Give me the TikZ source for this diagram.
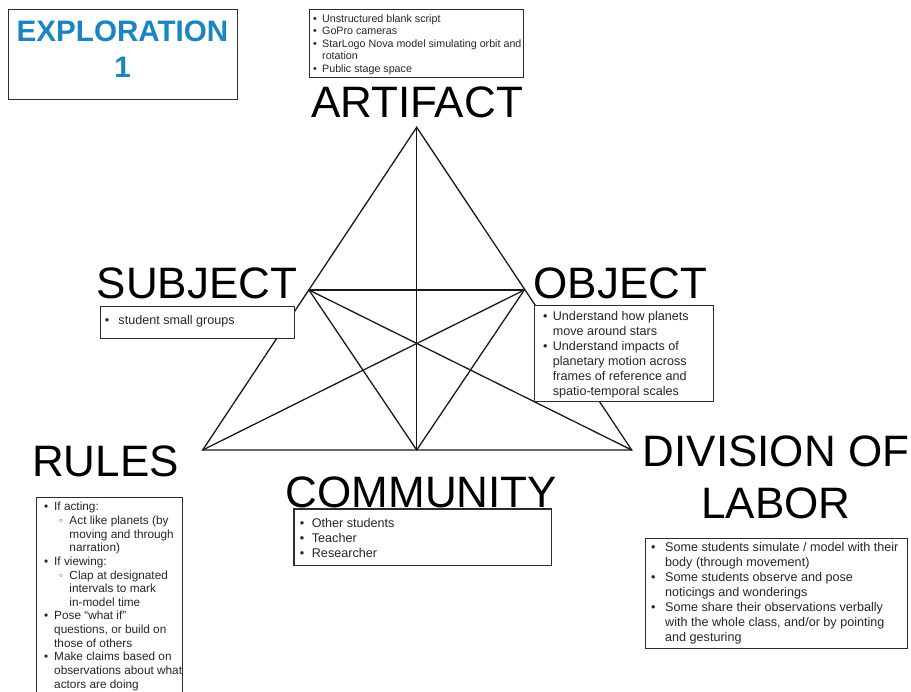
\documentclass[tikz,border=0pt]{standalone}
\usepackage{fontspec}
\setmainfont{Liberation Sans}
\usetikzlibrary{calc}
\definecolor{explblue}{RGB}{27,133,196}
\definecolor{boxline}{RGB}{45,45,45}
\newcommand\bux[1]{\makebox[#1][l]{•}}
\newcommand\subx[1]{\makebox[#1][l]{\color{black!60}◦}}
\newcommand\boxtext[4]{\begin{minipage}[t]{#1}\fontsize{#2}{#3}\selectfont #4\end{minipage}}
\tikzset{
  edge/.style={line width=1.3pt, black!90, line cap=round},
  infobox/.style={draw=boxline, line width=1.3pt, fill=white, anchor=north west, inner sep=0pt, rectangle},
  biglabel/.style={font=\fontsize{44}{52}\selectfont, inner sep=0pt, anchor=base},
  txt/.style={inner sep=0pt, anchor=base west, text=black!85},
}
\begin{document}
\begin{tikzpicture}[x=1pt,y=-1pt]
\useasboundingbox (0,0) rectangle (911,692);
% triangle vertices
\coordinate (A) at (416.7,127.3);
\coordinate (S) at (309,290);
\coordinate (O) at (524.3,290);
\coordinate (R) at (202.7,450);
\coordinate (D) at (631.7,450);
\coordinate (C) at (416.7,450);
\draw[edge] (A) -- (R) -- (D) -- cycle;
\draw[edge] (S) -- (O);
\draw[edge] (A) -- (C);
\draw[edge] (S) -- (C);
\draw[edge] (O) -- (C);
\draw[edge] (S) -- (D);
\draw[edge] (O) -- (R);

% exploration box
\node[infobox, minimum width=229pt, minimum height=90pt] (explbox) at (8,9) {};
\node[inner sep=0pt, anchor=base, text=explblue] (expltxt) at (122.5,41.6)
  {\begin{minipage}[t]{225pt}\centering\bfseries\fontsize{29.6}{36}\selectfont EXPLORATION\\1\end{minipage}};

% artifact
\node[infobox, minimum width=214pt, minimum height=68pt] (artbox) at (309,9) {};
\node[txt] (arttxt) at ($(artbox.north west)+(4,13.5)$)
  {\boxtext{212pt}{10.7}{12.4}{\bux{9pt}Unstructured blank script\\
  \bux{9pt}GoPro cameras\\
  \bux{9pt}StarLogo Nova model simulating orbit and\\
  \hspace*{9pt}rotation\\
  \bux{9pt}Public stage space}};
\node[biglabel] (artlabel) at (417,118) {ARTIFACT};

% subject
\node[biglabel] (subjlabel) at (197,299) {SUBJECT};
\node[infobox, minimum width=194pt, minimum height=32pt] (subjbox) at (100,306) {};
\node[txt] (subjtxt) at ($(subjbox.north west)+(4.7,18.5)$)
  {\boxtext{188pt}{12.6}{15}{\bux{13.6pt}student small groups}};

% object
\node[biglabel] (objlabel) at (620.5,299) {OBJECT};
\node[infobox, minimum width=178.7pt, minimum height=96pt] (objbox) at (534,305) {};
\node[txt] (objtxt) at ($(objbox.north west)+(9,15.8)$)
  {\boxtext{175pt}{12.6}{15}{\bux{9.7pt}Understand how planets\\
  \hspace*{9.7pt}move around stars\\
  \bux{9.7pt}Understand impacts of\\
  \hspace*{9.7pt}planetary motion across\\
  \hspace*{9.7pt}frames of reference and\\
  \hspace*{9.7pt}spatio-temporal scales}};

% rules
\node[biglabel] (ruleslabel) at (105.5,476.5) {RULES};
\node[infobox, minimum width=145.5pt, minimum height=200pt] (rulesbox) at (36,497) {};
\node[txt] (rulestxt) at ($(rulesbox.north west)+(8,13.8)$)
  {\boxtext{150pt}{11.8}{13.65}{\bux{10pt}If acting:\\
  \hspace*{14.7pt}\subx{10.6pt}Act like planets (by\\
  \hspace*{25.3pt}moving and through\\
  \hspace*{25.3pt}narration)\\
  \bux{10pt}If viewing:\\
  \hspace*{14.7pt}\subx{10.6pt}Clap at designated\\
  \hspace*{25.3pt}intervals to mark\\
  \hspace*{25.3pt}in-model time\\
  \bux{10pt}Pose “what if”\\
  \hspace*{10pt}questions, or build on\\
  \hspace*{10pt}those of others\\
  \bux{10pt}Make claims based on\\
  \hspace*{10pt}observations about what\\
  \hspace*{10pt}actors are doing}};

% community
\node[biglabel] (commlabel) at (421.5,507.5) {COMMUNITY};
\node[infobox, minimum width=257.7pt, minimum height=56.7pt] (commbox) at (293.3,508.3) {};
\node[txt] (commtxt) at ($(commbox.north west)+(6.4,18.9)$)
  {\boxtext{240pt}{12.6}{15.4}{\bux{12pt}Other students\\
  \bux{12pt}Teacher\\
  \bux{12pt}Researcher}};

% division of labor
\node[inner sep=0pt, anchor=base] (divlabel) at (776,467)
  {\begin{minipage}[t]{300pt}\centering\fontsize{44}{52}\selectfont DIVISION OF\\LABOR\end{minipage}};
\node[infobox, minimum width=261.7pt, minimum height=110pt] (divbox) at (645,538) {};
\node[txt] (divtxt) at ($(divbox.north west)+(6,13.3)$)
  {\boxtext{258pt}{12.6}{15.1}{\bux{14pt}Some students simulate / model with their\\
  \hspace*{14pt}body (through movement)\\
  \bux{14pt}Some students observe and pose\\
  \hspace*{14pt}noticings and wonderings\\
  \bux{14pt}Some share their observations verbally\\
  \hspace*{14pt}with the whole class, and/or by pointing\\
  \hspace*{14pt}and gesturing}};
\end{tikzpicture}
\end{document}
